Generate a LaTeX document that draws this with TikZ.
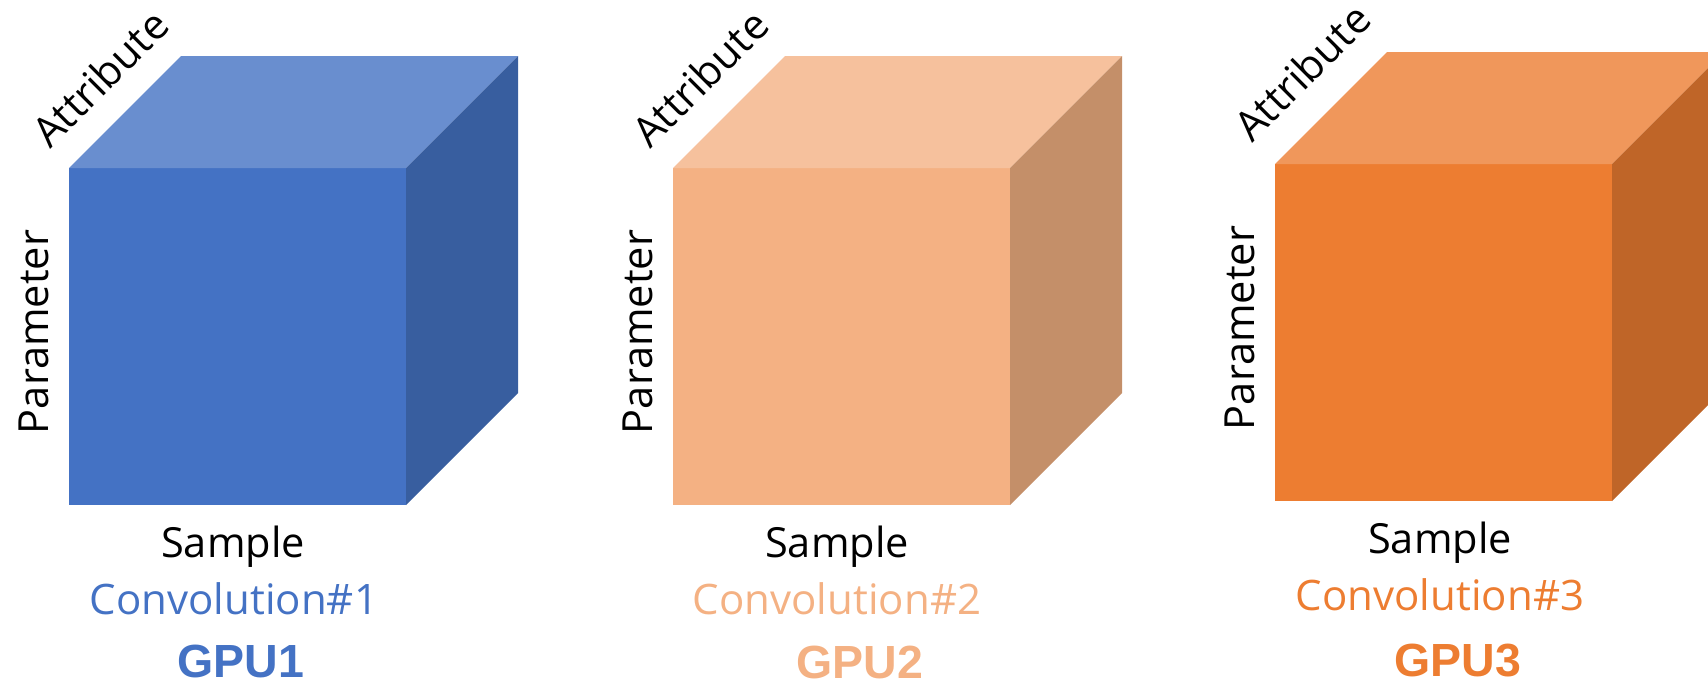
\documentclass[tikz,border=0pt]{standalone}
\usepackage{fontspec}
\usetikzlibrary{calc}
\setmainfont{Open Sans}
\newfontfamily\gpufont{Liberation Sans}
\definecolor{bluefront}{HTML}{4472C4}
\definecolor{bluetop}{HTML}{698ECF}
\definecolor{blueside}{HTML}{385E9F}
\definecolor{peachfront}{HTML}{F4B183}
\definecolor{peachtop}{HTML}{F6C19D}
\definecolor{peachside}{HTML}{C48F69}
\definecolor{orangefront}{HTML}{ED7D31}
\definecolor{orangetop}{HTML}{F0975B}
\definecolor{orangeside}{HTML}{BF6528}
\tikzset{
  axislabel/.style={inner sep=0pt, font=\fontsize{41.5}{50}\selectfont, text=black},
  convlabel/.style={inner sep=0pt, anchor=base, font=\fontsize{42}{50}\selectfont},
  gpulabel/.style={inner sep=0pt, anchor=base, font=\gpufont\bfseries\fontsize{46.5}{56}\selectfont},
}
% #1 name, #2 front-left x, #3 front-top y, #4 colour prefix
\newcommand\drawblock[4]{%
  \fill[#4front] (#2,#3) rectangle ++(337,337);
  \fill[#4top] (#2,#3) -- ++(112,-112) -- ++(337,0) -- ++(-112,112) -- cycle;
  \fill[#4side] (#2+337,#3) -- ++(112,-112) -- ++(0,337) -- ++(-112,112) -- cycle;
  \coordinate (#1) at (#2,#3);
}
\begin{document}
\begin{tikzpicture}[x=1pt,y=-1pt]
\useasboundingbox (0,0) rectangle (1708,686);
\begin{scope}
\clip (0,0) rectangle (1708,686);
\drawblock{c1}{69}{168}{blue}
\drawblock{c2}{673}{168}{peach}
\drawblock{c3}{1275}{164}{orange}
\end{scope}
% block 1
\node[axislabel, rotate=45] (attr1) at ($(c1)+(31,-90)$) {Attribute};
\node[axislabel, rotate=90, anchor=base] (par1) at ($(c1)+(-21,164)$) {Parameter};
\node[axislabel, anchor=base] (samp1) at ($(c1)+(164,389)$) {Sample};
\node[convlabel, text=bluefront] (conv1) at ($(c1)+(165,446)$) {Convolution\#1};
\node[gpulabel, text=bluefront] (gpu1) at ($(c1)+(172,509)$) {GPU1};
% block 2
\node[axislabel, rotate=45] (attr2) at ($(c2)+(27,-90)$) {Attribute};
\node[axislabel, rotate=90, anchor=base] (par2) at ($(c2)+(-21,164)$) {Parameter};
\node[axislabel, anchor=base] (samp2) at ($(c2)+(164,389)$) {Sample};
\node[convlabel, text=peachfront] (conv2) at ($(c2)+(164,446)$) {Convolution\#2};
\node[gpulabel, text=peachfront] (gpu2) at ($(c2)+(187,510)$) {GPU2};
% block 3
\node[axislabel, rotate=45] (attr3) at ($(c3)+(27,-92)$) {Attribute};
\node[axislabel, rotate=90, anchor=base] (par3) at ($(c3)+(-21,164)$) {Parameter};
\node[axislabel, anchor=base] (samp3) at ($(c3)+(165,389)$) {Sample};
\node[convlabel, text=orangefront] (conv3) at ($(c3)+(165,446)$) {Convolution\#3};
\node[gpulabel, text=orangefront] (gpu3) at ($(c3)+(183,512)$) {GPU3};
\end{tikzpicture}
\end{document}
